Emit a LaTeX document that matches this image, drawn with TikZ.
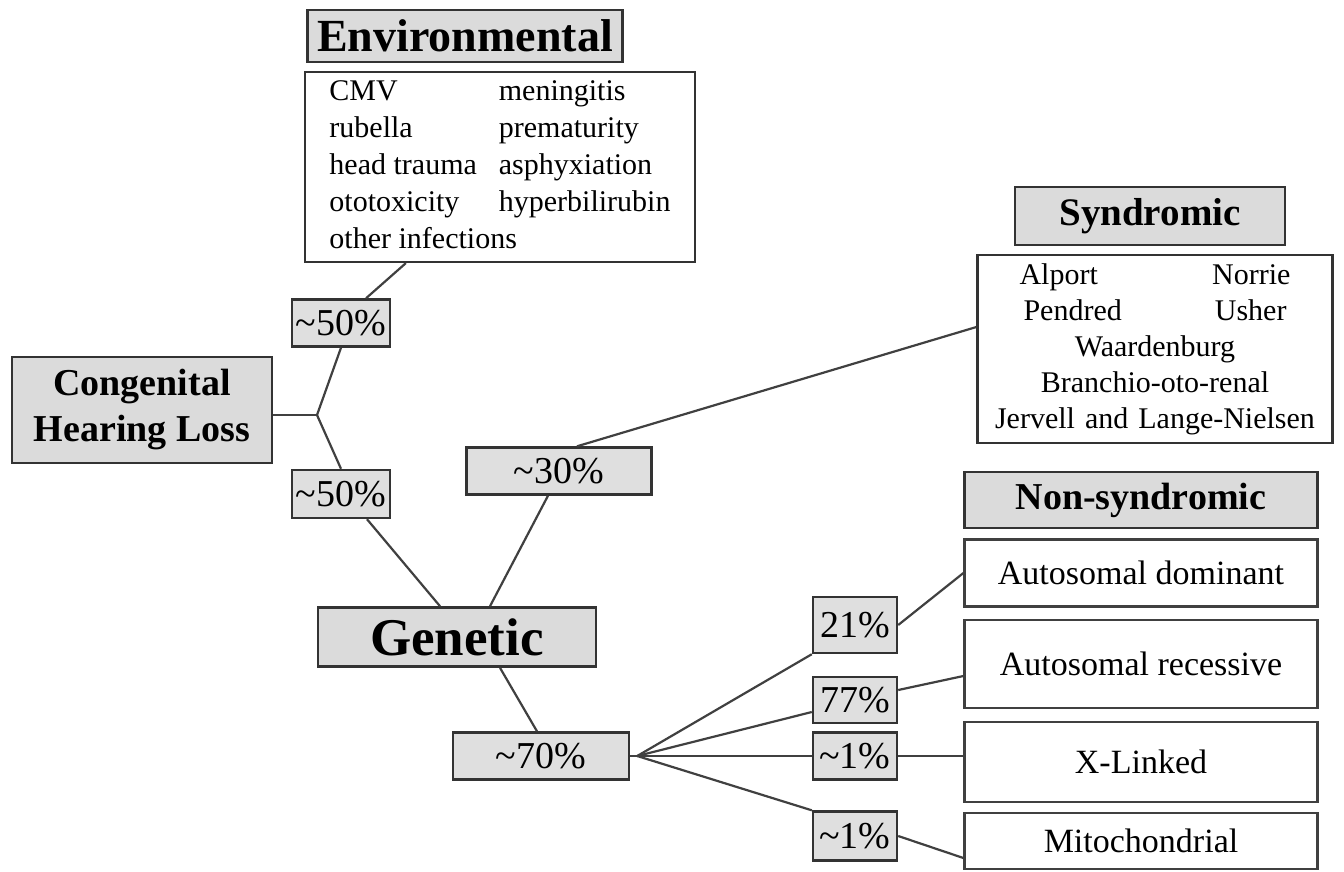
\documentclass[tikz,border=0pt]{standalone}
\usepackage{fontspec}
\setmainfont{Liberation Serif}
\usetikzlibrary{positioning,calc}

\begin{document}
\begin{tikzpicture}[x=1pt, y=-1pt,
        head/.style = {rectangle, draw=black!80, line width=2.6pt, fill=gray!28, inner sep=0pt, align=center},
        list/.style = {rectangle, draw=black!80, line width=2.2pt, fill=white, inner sep=0pt},
        pct/.style = {rectangle, draw=black!80, line width=2.4pt, fill=gray!25, inner sep=0pt, font=\fontsize{38}{40}\selectfont},
        kind/.style = {rectangle, draw=black!75, line width=2.2pt, fill=white, inner sep=0pt, minimum width=353pt, font=\fontsize{34}{38}\selectfont},
        link/.style = {draw=black!75, line width=2.2pt}
    ]
        \useasboundingbox (0,0) rectangle (1344,871);

        % Left: root and first split
        \node[head, minimum width=260pt, minimum height=106pt, font=\bfseries\fontsize{38}{46}\selectfont] (chl) at (142,410) {Congenital\\Hearing Loss};
        \node[pct, minimum width=98pt, minimum height=47pt] (envpct) at (341,323) {\textasciitilde50\%};
        \node[pct, minimum width=98pt, minimum height=48pt] (genpct) at (341,494) {\textasciitilde50\%};

        % Top: environmental causes
        \node[head, minimum width=315pt, minimum height=52pt, font=\bfseries\fontsize{46}{50}\selectfont] (envhead) at (465,36) {Environmental};
        \node[list, minimum width=390pt, minimum height=190pt, font=\fontsize{30}{37}\selectfont] (envlist) at (500,167) {%
            \begin{tabular}{@{}l@{\hspace{22pt}}l@{}}
                CMV & meningitis\\
                rubella & prematurity\\
                head trauma & asphyxiation\\
                ototoxicity & hyperbilirubin\\
                \multicolumn{2}{@{}l@{}}{other infections}
            \end{tabular}};

        % Middle: genetic branch
        \node[head, minimum width=278pt, minimum height=59pt, font=\bfseries\fontsize{53}{56}\selectfont] (genetic) at (457,637) {Genetic};
        \node[pct, minimum width=185pt, minimum height=47pt] (synpct) at (559,471) {\textasciitilde30\%};
        \node[pct, minimum width=176pt, minimum height=47pt] (nonpct) at (541,756) {\textasciitilde70\%};

        % Right top: syndromic
        \node[head, minimum width=270pt, minimum height=58pt, font=\bfseries\fontsize{39}{42}\selectfont] (synhead) at (1150,216) {Syndromic};
        \node[list, minimum width=355pt, minimum height=188pt, text width=352pt, align=center, font=\fontsize{30}{36}\selectfont] (synlist) at (1155,349) {%
            \makebox[271pt][s]{Alport\hfill Norrie}\\
            \makebox[263pt][s]{Pendred\hfill Usher}\\
            Waardenburg\\
            Branchio-oto-renal\\
            Jervell and Lange-Nielsen};

        % Right bottom: non-syndromic
        \node[head, minimum width=353pt, minimum height=56pt, font=\bfseries\fontsize{38}{40}\selectfont] (nonhead) at (1141,500) {Non-syndromic};
        \node[kind, minimum height=67pt] (ad) at (1141,573) {Autosomal dominant};
        \node[kind, minimum height=88pt] (ar) at (1141,664) {Autosomal recessive};
        \node[kind, minimum height=80pt] (xl) at (1141,762) {X-Linked};
        \node[kind, minimum height=56pt] (mito) at (1141,841) {Mitochondrial};

        \node[pct, minimum width=84pt, minimum height=56pt] (p21) at (855,625) {21\%};
        \node[pct, minimum width=84pt, minimum height=46pt] (p77) at (855,700) {77\%};
        \node[pct, minimum width=84pt, minimum height=47pt] (p1x) at (855,756) {\textasciitilde1\%};
        \node[pct, minimum width=84pt, minimum height=49pt] (p1m) at (855,836) {\textasciitilde1\%};

        % Connections
        \coordinate (split) at (317,415);
        \draw[link] (chl.east |- split) -- (split);
        \draw[link] (split) -- (envpct.south);
        \draw[link] (split) -- (genpct.north);
        \draw[link] ($(envpct.north)+(25,0)$) -- ($(envlist.south west)!0.26!(envlist.south east)$);
        \draw[link] ($(genpct.south)+(26,0)$) -- ($(genetic.north)+(-17,0)$);
        \draw[link] ($(genetic.north)+(33,0)$) -- ($(synpct.south)+(-11,0)$);
        \draw[link] ($(synpct.north)+(18,0)$) -- ($(synlist.west)+(0,-22)$);
        \draw[link] ($(genetic.south)+(43,0)$) -- ($(nonpct.north)+(-4,0)$);

        % Fan to inheritance types
        \coordinate (fan) at ($(nonpct.east)+(7,0)$);
        \draw[link] (nonpct.east) -- (fan);
        \draw[link] (fan) -- (p21.south west);
        \draw[link] (fan) -- ($(p77.west)+(0,12)$);
        \draw[link] (fan) -- (p1x.west);
        \draw[link] (fan) -- (p1m.north west);
        \draw[link] (p21.east) -- (ad.west);
        \draw[link] ($(p77.east)+(0,-10)$) -- ($(ar.west)+(0,12)$);
        \draw[link] (p1x.east) -- (p1x.east -| xl.west);
        \draw[link] (p1m.east) -- ($(mito.west)+(0,17)$);

    \end{tikzpicture}
\end{document}
